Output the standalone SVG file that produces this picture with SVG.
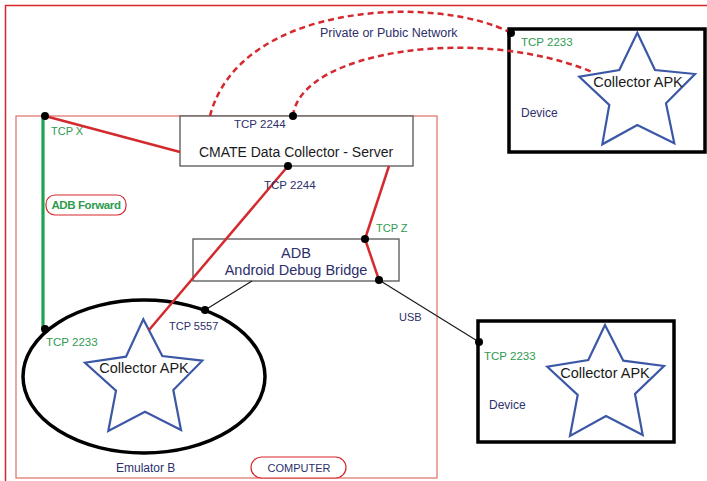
<svg xmlns="http://www.w3.org/2000/svg" width="707" height="481" viewBox="0 0 707 481">
<defs>
<style>
text{font-family:"Liberation Sans",Arial,sans-serif}
.navy{fill:#2c2f6b}
.green{fill:#2f9b4f}
.blk{fill:#1a1a1a}
.redln{stroke:#d42a2f;stroke-width:2.5;fill:none}
.dash{stroke:#d42a2f;stroke-width:2.5;fill:none;stroke-dasharray:6 4}
.thin{stroke:#1a1a1a;stroke-width:1.2;fill:none}
.star{fill:#fff;stroke:#3b57a6;stroke-width:2.2;stroke-linejoin:miter}
.dev{fill:#fff;stroke:#000;stroke-width:3.5}
.gbox{fill:#fff;stroke:#555;stroke-width:1.3}
.dot{fill:#000}
</style>
</defs>
<rect width="707" height="481" fill="#fff"/>
<rect id="frame" x="5.5" y="5.5" width="720" height="500" fill="none" stroke="#d8262d" stroke-width="1.5"/>

<g id="computer">
<rect x="16" y="116" width="421" height="362" fill="none" stroke="#e07a72" stroke-width="1.3"/>
<rect x="251" y="457" width="95" height="21" rx="10.5" fill="#fff" stroke="#d8262d" stroke-width="1.2"/>
<text x="299" y="472" font-size="11" text-anchor="middle" class="navy">COMPUTER</text>
</g>

<g id="device1">
<rect x="509" y="29" width="196" height="123" class="dev"/>
<polygon class="star" points="637.3,32.7 655,70 695,74 666,103.3 674.3,143.3 637.3,125 602.3,144.3 609.3,105 579.3,76.7 619.3,70"/>
<text x="638" y="87" font-size="14.5" text-anchor="middle" class="blk">Collector APK</text>
<text x="521" y="46" font-size="11.5" class="green">TCP 2233</text>
<text x="521" y="117" font-size="12" class="navy">Device</text>
</g>

<g id="device2">
<rect x="478" y="321" width="196" height="121" class="dev"/>
<polygon class="star" points="605,325 623.3,360.7 664,366 635,394 642.7,435 606,416 570,436 577.7,395 547.3,366.7 588.3,360"/>
<text x="605" y="378" font-size="14.5" text-anchor="middle" class="blk">Collector APK</text>
<text x="484" y="360" font-size="11.5" class="green">TCP 2233</text>
<text x="489" y="409" font-size="12" class="navy">Device</text>
</g>

<g id="emulator">
<ellipse cx="144" cy="376.5" rx="121" ry="76.5" fill="#fff" stroke="#000" stroke-width="3.5"/>
<polygon class="star" points="143.3,319.3 162.3,356 202.3,360.7 173.3,390 181,430 145,411.7 108.3,431 116,390.7 85,362.7 126,356.7"/>
<text x="144" y="373" font-size="14.5" text-anchor="middle" class="blk">Collector APK</text>
<text x="116" y="472" font-size="12" class="navy">Emulator B</text>
</g>

<g id="server">
<rect x="180" y="116" width="233" height="50" class="gbox"/>
<text x="296" y="157" font-size="14" text-anchor="middle" class="blk">CMATE Data Collector - Server</text>
<text x="234" y="128" font-size="11.5" class="navy">TCP 2244</text>
</g>

<g id="adb">
<rect x="193" y="239" width="206" height="42" class="gbox"/>
<text x="296" y="258" font-size="14.5" text-anchor="middle" class="navy">ADB</text>
<text x="296" y="275" font-size="14.5" text-anchor="middle" class="navy">Android Debug Bridge</text>
</g>

<g id="adbforward">
<rect x="46" y="195" width="80" height="20" rx="9" fill="#fff" stroke="#d8262d" stroke-width="1.2"/>
<text x="86" y="209" font-size="11.5" font-weight="bold" text-anchor="middle" class="green" letter-spacing="-0.4">ADB Forward</text>
</g>

<g id="connectors">
<path class="dash" d="M210,116 C240,0 440,-5 511,33"/>
<path class="dash" d="M293,116 C300,50 480,25 592,72"/>
<line x1="43" y1="118" x2="43" y2="329" stroke="#1fa352" stroke-width="3.2"/>
<line class="redln" x1="45" y1="116" x2="180" y2="152"/>
<line class="redln" x1="288" y1="166" x2="149" y2="330"/>
<line class="redln" x1="389" y1="166" x2="365" y2="239"/>
<line class="redln" x1="365" y1="239" x2="379" y2="280"/>
<line class="thin" x1="252" y1="281" x2="205" y2="310"/>
<line class="thin" x1="379" y1="280" x2="479" y2="342"/>
<circle class="dot" cx="511" cy="33" r="4"/>
<circle class="dot" cx="293" cy="116" r="4"/>
<circle class="dot" cx="45" cy="116" r="4"/>
<circle class="dot" cx="288" cy="166" r="4"/>
<circle class="dot" cx="365" cy="239" r="4"/>
<circle class="dot" cx="379" cy="280" r="4"/>
<circle class="dot" cx="205" cy="310" r="4"/>
<circle class="dot" cx="45" cy="329" r="4"/>
<circle class="dot" cx="479" cy="342" r="4"/>
<text x="320" y="37" font-size="12.5" class="navy">Private or Pubic Network</text>
<text x="51" y="135" font-size="11" class="green">TCP X</text>
<text x="264" y="189" font-size="11.5" class="navy">TCP 2244</text>
<text x="376" y="232" font-size="11" class="green">TCP Z</text>
<text x="169" y="330" font-size="11" class="navy">TCP 5557</text>
<text x="46" y="346" font-size="11.5" class="green">TCP 2233</text>
<text x="399" y="321" font-size="11" class="navy">USB</text>
</g>
</svg>
